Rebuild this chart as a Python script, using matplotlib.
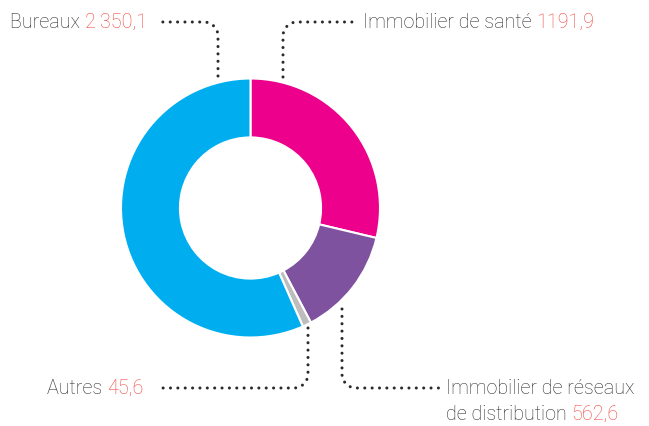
import numpy as np
import matplotlib.pyplot as plt

# ---------- Données ----------
labels = ["Immobilier de santé", "Immobilier de réseaux\nde distribution", "Autres", "Bureaux"]
values = [1191.9, 562.6, 45.6, 2350.1]
value_txt = ["1191,9", "562,6", "45,6", "2\u2009350,1"]
colors = ["#EC008C", "#7F529F", "#BDBDBD", "#00AEEF"]

W, H = 649, 426
TXT = "#2e2e2e"
NUM = "#F0443C"
DOT = "#2a2a2a"

plt.rcParams['font.family'] = ['Roboto', 'DejaVu Sans']

fig = plt.figure(figsize=(W / 100, H / 100), dpi=100)
ax = fig.add_axes([0, 0, 1, 1])

# coordonnées en pixels, origine en haut à gauche
def Y(y):
    return H - y

cx, cy, R = 250.5, 208, 129.5
ax.pie(values, colors=colors, startangle=90, counterclock=False,
       center=(cx, Y(cy)), radius=R,
       wedgeprops=dict(width=R * 0.455, edgecolor="white", linewidth=1.5))

ax.set_xlim(0, W)
ax.set_ylim(0, H)
ax.set_aspect("equal")
ax.set_axis_off()


# ---------- Lignes pointillées ----------
def leader(x0, y0, x1, y1, r=14):
    dv = np.sign(y1 - y0)
    dh = np.sign(x1 - x0)
    t = np.linspace(0, np.pi / 2, 12)
    ccx, ccy = x0 + dh * r, y1 - dv * r
    ax_ = ccx - dh * r * np.cos(t)
    ay_ = ccy + dv * r * np.sin(t)
    xs = np.concatenate([[x0], ax_, [x1]])
    ys = np.concatenate([[y0], ay_, [y1]])
    ax.plot(xs, Y(ys), color=DOT, lw=2.2, linestyle=(0, (0.01, 2.4)),
            dash_capstyle="round", solid_capstyle="round")


leader(218, 76, 158, 22)    # Bureaux
leader(283, 77, 355, 22)    # santé
leader(308, 328, 157, 388)  # Autres
leader(342, 309, 442, 388)  # réseaux

# ---------- Textes ----------
fs = 14.2
r = fig.canvas.get_renderer()


def label(x, y, txt, num):
    t = ax.text(x, Y(y), txt + " ", fontsize=fs, color=TXT, fontweight="light",
                ha="left", va="center")
    bb = t.get_window_extent(renderer=r)
    ax.text(bb.x1, Y(y), num, fontsize=fs, color=NUM, fontweight="light",
            ha="left", va="center")


label(10, 22, labels[3], value_txt[3])
label(363, 22, labels[0], value_txt[0])
label(47, 388, labels[2], value_txt[2])
ax.text(446, Y(388), "Immobilier de réseaux", fontsize=fs, color=TXT,
        fontweight="light", ha="left", va="center")
label(446, 414, "de distribution", value_txt[1])

plt.savefig("out.png", dpi=100)
